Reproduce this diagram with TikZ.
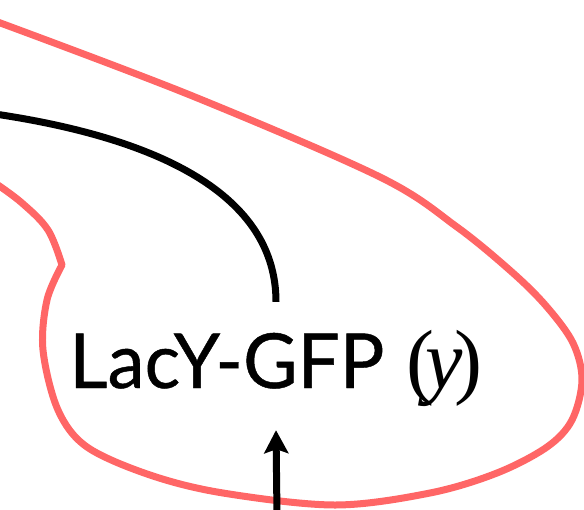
\documentclass[tikz,border=0pt]{standalone}
\usepackage{fontspec}
\setmainfont[FakeStretch=0.98,FakeBold=0.6]{Lato}
\newfontfamily\serifpart{Liberation Serif}
\usetikzlibrary{arrows.meta}
\definecolor{cellred}{HTML}{FF6666}
\begin{document}
\begin{tikzpicture}[x=1pt,y=-1pt,
  membrane/.style={draw=cellred,line width=7pt,line join=round},
  link/.style={draw=black,line width=7pt},
  feed/.style={draw=black,line width=7pt,-{Stealth[length=23pt,width=24pt,inset=4pt]}},
  species/.style={inner sep=0pt,text height=86pt,text depth=42pt,
    font=\fontsize{76}{80}\selectfont}]
\useasboundingbox (0,0) rectangle (584,509);
\clip (0,0) rectangle (584,509);

% cell outline
\draw[membrane] plot[smooth,tension=0.55] coordinates {
  (-5,21) (190,95) (380,177) (457,227) (513,273) (547,307) (573,343)
  (582,380) (572,420) (547,447) (497,473) (430,493) (335,505) (223,493)
  (150,475) (87,447) (58,410) (43,350) (47,300) (62,265)}
  -- plot[smooth,tension=0.6] coordinates {(62,265) (48,230) (22,203) (-5,183)};

% species label
\node[species,anchor=base] (lbl) at (276,388)
  {LacY-GFP\kern22pt{\serifpart\fontsize{84}{88}\selectfont
   (\kern-0.1em\textit{y}\kern-0.1em)}};

% incoming connectors
\coordinate (ysrc) at (-5,114);
\coordinate (asrc) at (277,515);
\draw[link] (ysrc) .. controls (170,140) and (lbl.north |- 0,200) .. (lbl.north);
\draw[feed] (asrc) -- (lbl.south);
\end{tikzpicture}
\end{document}
